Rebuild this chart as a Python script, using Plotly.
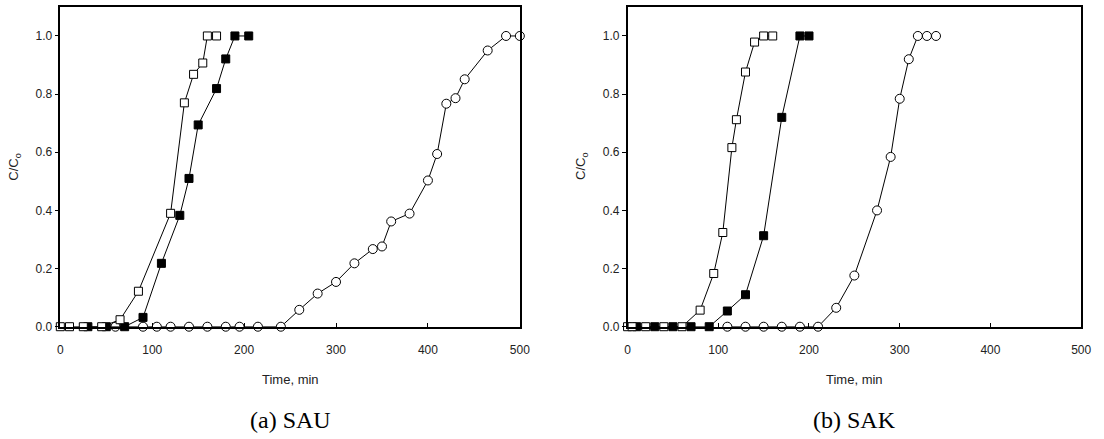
import plotly.graph_objects as go

# ---------------- data ----------------
# (a) SAU
sau_open_sq_t = [0, 10, 25, 45, 65, 85, 120, 135, 145, 155, 160, 170]
sau_open_sq_c = [0, 0, 0, 0, 0.024, 0.122, 0.39, 0.77, 0.868, 0.907, 1.0, 1.0]

sau_fill_sq_t = [30, 50, 70, 90, 110, 130, 140, 150, 170, 180, 190, 205]
sau_fill_sq_c = [0, 0, 0, 0.032, 0.218, 0.383, 0.51, 0.694, 0.819, 0.921, 1.0, 1.0]

sau_circ_t = [60, 90, 105, 120, 140, 160, 180, 195, 215, 240, 260, 280, 300, 320,
              340, 350, 360, 380, 400, 410, 420, 430, 440, 465, 485, 500]
sau_circ_c = [0, 0, 0, 0, 0, 0, 0, 0, 0, 0, 0.058, 0.114, 0.154, 0.218,
              0.267, 0.276, 0.362, 0.389, 0.503, 0.594, 0.767, 0.786, 0.851, 0.95, 1.0, 1.0]

# (b) SAK
sak_open_sq_t = [0, 5, 20, 40, 60, 80, 95, 105, 115, 120, 130, 140, 150, 160]
sak_open_sq_c = [0, 0, 0, 0, 0, 0.057, 0.183, 0.324, 0.616, 0.712, 0.876, 0.979, 1.0, 1.0]

sak_fill_sq_t = [10, 30, 50, 70, 90, 110, 130, 150, 170, 190, 200]
sak_fill_sq_c = [0, 0, 0, 0, 0, 0.054, 0.11, 0.313, 0.72, 1.0, 1.0]

sak_circ_t = [110, 130, 150, 170, 190, 210, 230, 250, 275, 290, 300, 310, 320, 330, 340]
sak_circ_c = [0, 0, 0, 0, 0, 0, 0.065, 0.176, 0.40, 0.584, 0.784, 0.92, 1.0, 1.0, 1.0]

x_ticks = [0, 100, 200, 300, 400, 500]
y_ticks = [0.0, 0.2, 0.4, 0.6, 0.8, 1.0]
captions = ["(a) SAU", "(b) SAK"]

# ---------------- figure ----------------
fig = go.Figure()

def add_series(t, c, symbol, fill, xa, ya, size=8):
    fig.add_trace(go.Scatter(
        x=t, y=c, mode="lines+markers", xaxis=xa, yaxis=ya,
        line=dict(color="black", width=1),
        marker=dict(symbol=symbol, size=size, color=fill,
                    line=dict(color="black", width=1)),
        cliponaxis=False, showlegend=False, hoverinfo="x+y"))

# left panel
add_series(sau_circ_t, sau_circ_c, "circle", "white", "x", "y", 9)
add_series(sau_fill_sq_t, sau_fill_sq_c, "square", "black", "x", "y")
add_series(sau_open_sq_t, sau_open_sq_c, "square", "white", "x", "y")
# right panel
add_series(sak_circ_t, sak_circ_c, "circle", "white", "x2", "y2", 9)
add_series(sak_fill_sq_t, sak_fill_sq_c, "square", "black", "x2", "y2")
add_series(sak_open_sq_t, sak_open_sq_c, "square", "white", "x2", "y2")

W, H = 1104, 439
ydom = [(H - 332) / H, (H - 7) / H]
xdom1 = [58 / W, 523 / W]
xdom2 = [632 / W, 1091 / W]

SANS = "Liberation Sans"
SERIF = "Liberation Serif"
tickfont = dict(family=SANS, size=12, color="#222222")

def xaxis(dom, anchor):
    return dict(domain=dom, anchor=anchor, range=[0, 500], tickvals=x_ticks,
                ticktext=[str(v) for v in x_ticks],
                showgrid=False, zeroline=False, showline=True, linecolor="black",
                linewidth=1.5, mirror=True, ticks="inside", ticklen=4,
                tickcolor="black", tickwidth=1, tickfont=tickfont,
                ticklabelstandoff=11)

def yaxis(anchor):
    return dict(domain=ydom, anchor=anchor, range=[0, 1.1], tickvals=y_ticks,
                ticktext=[f"{v:.1f}" for v in y_ticks],
                showgrid=False, zeroline=False, showline=True, linecolor="black",
                linewidth=1.5, mirror=True, ticks="outside", ticklen=4,
                tickcolor="black", tickwidth=1, tickfont=tickfont)

fig.update_layout(
    width=W, height=H,
    margin=dict(l=0, r=0, t=0, b=0),
    paper_bgcolor="white", plot_bgcolor="white",
    font=dict(family=SANS),
    xaxis=xaxis(xdom1, "y"), yaxis=yaxis("x"),
    xaxis2=xaxis(xdom2, "y2"), yaxis2=yaxis("x2"),
)

ann = []
for dom, cap, ytx in [(xdom1, captions[0], 12), (xdom2, captions[1], 586)]:
    cx = (dom[0] + dom[1]) / 2
    ann.append(dict(x=cx, y=(H - 386) / H, xref="paper", yref="paper",
                    xanchor="center", yanchor="middle",
                    text="Time, min", showarrow=False,
                    font=dict(family=SANS, size=13, color="#222222")))
    ann.append(dict(x=cx, y=(H - 427) / H, xref="paper", yref="paper",
                    xanchor="center", yanchor="middle",
                    text=cap, showarrow=False,
                    font=dict(family=SERIF, size=24, color="black")))
    ann.append(dict(x=ytx / W, y=(ydom[0] + ydom[1]) / 2, xref="paper", yref="paper",
                    xanchor="center", yanchor="middle",
                    text="C/C<sub>o</sub>", showarrow=False, textangle=-90,
                    font=dict(family=SANS, size=13, color="#222222")))
fig.update_layout(annotations=ann)

fig.write_html("out.html")
